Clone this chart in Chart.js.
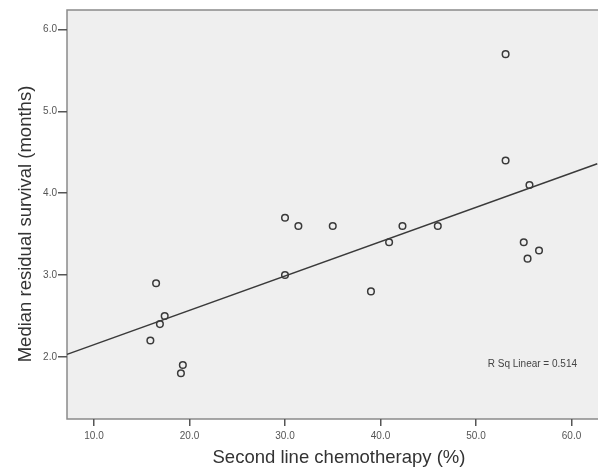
<!DOCTYPE html>
<html>
<head>
<meta charset="utf-8">
<script src="https://cdn.jsdelivr.net/npm/chart.js@4"></script>
<style>
  html, body { margin: 0; padding: 0; background: #fff; }
  #wrap { width: 598px; height: 468px; }
</style>
</head>
<body>
<div id="wrap"><canvas id="scatter"></canvas></div>
<script>
// values
const chemo_pct = [15.9, 16.5, 16.9, 17.4, 19.1, 19.3, 30.0, 30.0, 31.4, 35.0, 39.0, 40.9, 42.3, 46.0, 53.1, 53.1, 55.0, 55.6, 55.4, 56.6]
const survival_months = [2.2, 2.9, 2.4, 2.5, 1.8, 1.9, 3.0, 3.7, 3.6, 3.6, 2.8, 3.4, 3.6, 3.6, 5.7, 4.4, 3.4, 4.1, 3.2, 3.3]
const fit_x = [7.17, 62.7]
const fit_y = [2.03, 4.36]
const x_ticks = [10, 20, 30, 40, 50, 60]
const y_ticks = [2, 3, 4, 5, 6]
const x_title = 'Second line chemotherapy (%)'
const y_title = 'Median residual survival (months)'
const r_sq_label = 'R Sq Linear = 0.514'

const scatter_canvas = document.getElementById('scatter')
const FONT = '"Liberation Sans", Arial, sans-serif'

// the plot frame runs off the right edge of the picture
const plotBox = {
    id: 'plotBox',
    beforeDraw: (chart) => {
        const { ctx, chartArea: a } = chart
        const right = chart.width + 4
        ctx.save()
        ctx.fillStyle = '#efefef'
        ctx.fillRect(a.left, a.top, right - a.left, a.bottom - a.top)
        ctx.strokeStyle = '#8a8a8a'
        ctx.lineWidth = 1.5
        ctx.strokeRect(a.left, a.top, right - a.left, a.bottom - a.top)
        ctx.restore()
    },
    afterDraw: (chart) => {
        const { ctx, chartArea: a } = chart
        ctx.save()
        ctx.font = '10px ' + FONT
        ctx.fillStyle = '#444'
        ctx.textAlign = 'right'
        ctx.textBaseline = 'middle'
        ctx.fillText(r_sq_label, chart.width - 21, a.bottom - 55)

        // axis titles
        ctx.font = '18.5px ' + FONT
        ctx.fillStyle = '#333'
        ctx.textAlign = 'center'
        ctx.fillText(x_title, 339, 458)
        ctx.translate(26, 224)
        ctx.rotate(-Math.PI / 2)
        ctx.fillText(y_title, 0, 0)
        ctx.restore()
    }
}

const tickFont = { family: FONT, size: 10 }

new Chart(scatter_canvas, {
    type: 'scatter',
    data: {
        datasets: [
            {
                label: 'points',
                data: chemo_pct.map((x, i) => ({ x: x, y: survival_months[i] })),
                pointRadius: 3.3,
                pointBorderWidth: 1.5,
                pointBorderColor: '#3a3a3a',
                pointBackgroundColor: 'rgba(0,0,0,0)',
                order: 1
            },
            {
                label: 'fit',
                type: 'line',
                data: fit_x.map((x, i) => ({ x: x, y: fit_y[i] })),
                borderColor: '#3a3a3a',
                borderWidth: 1.5,
                pointRadius: 0,
                fill: false,
                clip: false,
                order: 2
            }
        ]
    },
    options: {
        responsive: true,
        maintainAspectRatio: false,
        animation: false,
        layout: { padding: { top: 10, right: 0, left: 0, bottom: 0 } },
        plugins: {
            legend: { display: false },
            tooltip: { enabled: false }
        },
        scales: {
            x: {
                type: 'linear',
                min: 7.17,
                max: 62.2,
                afterBuildTicks: s => { s.ticks = x_ticks.map(v => ({ value: v })) },
                afterFit: s => { s.height = 49; s.paddingRight = 0; s.paddingLeft = 0 },
                ticks: {
                    font: tickFont,
                    color: '#555',
                    padding: 4,
                    maxRotation: 0,
                    callback: v => v.toFixed(1)
                },
                grid: { drawOnChartArea: false, drawTicks: true, tickLength: 7, color: '#555', lineWidth: 1.5 },
                border: { display: false }
            },
            y: {
                type: 'linear',
                min: 1.24,
                max: 6.24,
                afterBuildTicks: s => { s.ticks = y_ticks.map(v => ({ value: v })) },
                afterFit: s => { s.width = 67 },
                ticks: {
                    font: tickFont,
                    color: '#555',
                    padding: 1,
                    callback: v => v.toFixed(1)
                },
                grid: { drawOnChartArea: false, drawTicks: true, tickLength: 9, color: '#555', lineWidth: 1.5 },
                border: { display: false }
            }
        }
    },
    plugins: [plotBox]
})
</script>
</body>
</html>
